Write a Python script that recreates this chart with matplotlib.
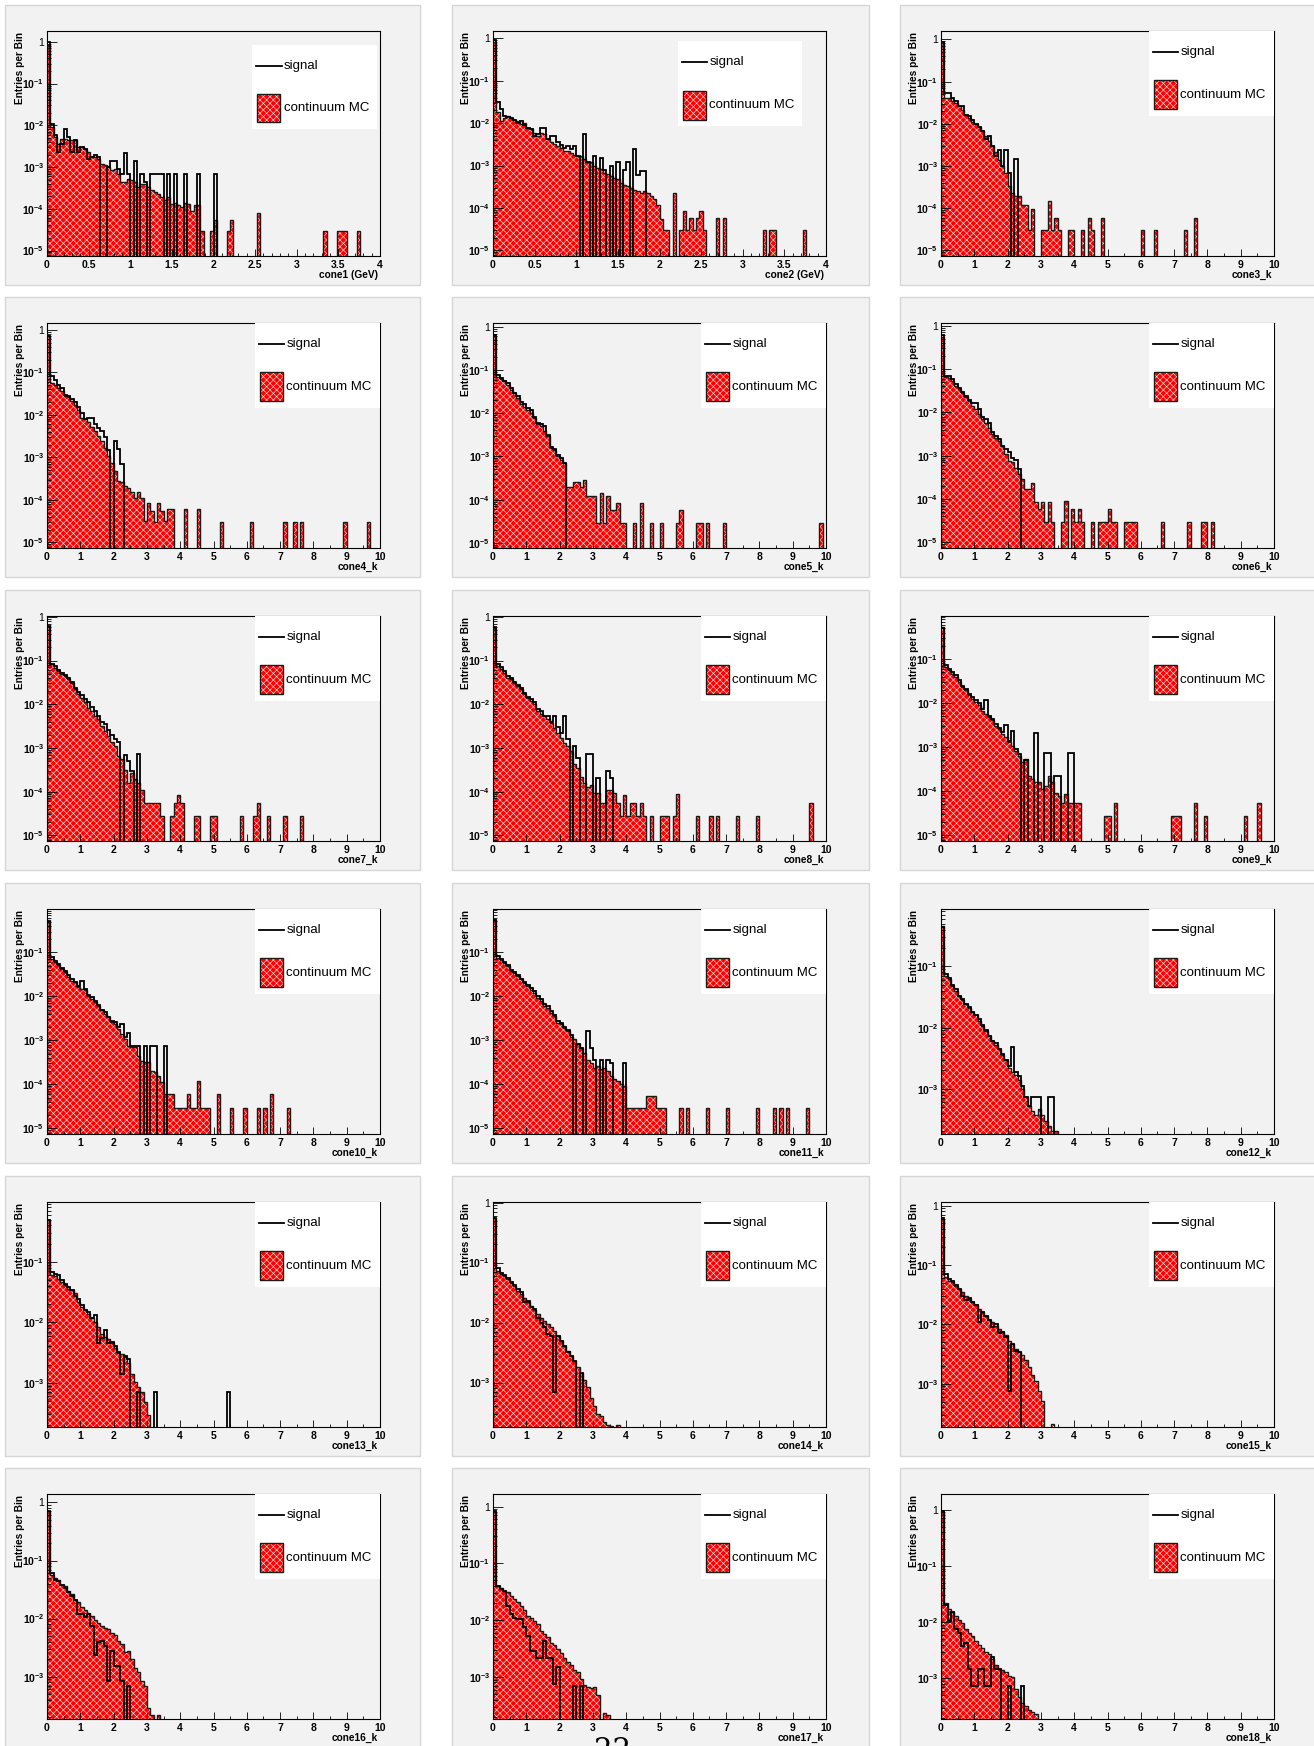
import numpy as np
import matplotlib
matplotlib.use("Agg")
import matplotlib.pyplot as plt
from matplotlib.patches import Rectangle
from matplotlib.lines import Line2D
from matplotlib.ticker import LogLocator, MultipleLocator, FuncFormatter, NullFormatter

plt.rcParams['font.family'] = ['Liberation Sans', 'DejaVu Sans']
plt.rcParams['mathtext.fontset'] = 'custom'
plt.rcParams['mathtext.rm'] = 'Liberation Sans'
plt.rcParams['mathtext.bf'] = 'Liberation Sans:bold'
plt.rcParams['hatch.linewidth'] = 0.4

NBINS = 100

# ---- cone1 (GeV), 0.04 bins
b1 = [0.85, 9e-3, 5.2e-3, 3.6e-3, 4.8e-3, 4.8e-3, 4.4e-3, 4.4e-3, 4.4e-3, 3e-3,
      3e-3, 2.7e-3, 2.3e-3, 1.7e-3, 1.7e-3, 1.6e-3, 1.2e-3, 1.1e-3, 1e-3, 8.3e-4,
      9e-4, 7e-4, 4.4e-4, 4.4e-4, 5.3e-4, 4.8e-4, 4.4e-4, 3.3e-4, 4e-4, 4e-4,
      3.3e-4, 2.8e-4, 2.5e-4, 2.3e-4, 1.9e-4, 1.6e-4, 1.9e-4, 1.3e-4, 1.4e-4, 1.2e-4,
      1.1e-4, 1.4e-4, 1.3e-4, 9e-5, 1.2e-4, 1.2e-4, 3e-5]
b1_tail = {49: 3e-5, 50: 5.5e-5, 54: 3e-5, 55: 5.5e-5, 63: 8e-5, 83: 3e-5,
           87: 3e-5, 88: 3e-5, 89: 3e-5, 93: 3e-5}
s1 = [1.0, 1.05e-2, 5.8e-3, 2.3e-3, 3.6e-3, 8.3e-3, 5.2e-3, 2.3e-3, 4.4e-3, 2.3e-3,
      3e-3, 2.7e-3, 1.6e-3, 1.7e-3, 1.9e-3, 1.7e-3, 0, 0, 1e-3, 1.4e-3,
      1.4e-3, 9e-4, 7e-4, 2.2e-3, 7e-4, 0, 1.4e-3, 0, 7e-4, 4.4e-4,
      0, 7e-4, 7e-4, 7e-4, 7e-4, 0, 7e-4, 0, 7e-4, 0,
      0, 7e-4, 0, 0, 0, 7e-4, 0, 0, 0, 0, 7e-4]

# ---- cone2 (GeV), 0.04 bins
b2 = [0.8, 1.8e-2, 1.1e-2, 1.35e-2, 1.5e-2, 1.35e-2, 1.2e-2, 1.1e-2, 9.4e-3, 1e-2,
      7.8e-3, 7.2e-3, 6e-3, 5e-3, 6e-3, 5.5e-3, 4.2e-3, 3.5e-3, 3.2e-3, 2.9e-3,
      2.6e-3, 2.2e-3, 2.2e-3, 2e-3, 1.8e-3, 1.7e-3, 1.7e-3, 1.4e-3, 1.2e-3, 1.2e-3,
      9.8e-4, 9e-4, 8.1e-4, 6.8e-4, 6.2e-4, 5.7e-4, 5.2e-4, 4.7e-4, 3.9e-4, 3.5e-4,
      3.3e-4, 3e-4, 2.7e-4, 2.5e-4, 2.3e-4, 2.5e-4, 2.3e-4, 1.9e-4, 1.6e-4, 1.2e-4,
      5.4e-5, 3e-5, 3e-5, 0, 2.3e-4, 0, 3e-5, 8.5e-5, 3e-5, 5.8e-5,
      3e-5, 5.8e-5, 8.5e-5, 3e-5]
b2_tail = {67: 5.8e-5, 69: 5.8e-5, 81: 3e-5, 83: 3e-5, 84: 3e-5, 93: 3e-5}
s2 = [0.9, 3.1e-2, 2.1e-2, 1.5e-2, 1.4e-2, 1.35e-2, 1.2e-2, 1e-2, 1.1e-2, 9e-3,
      7.8e-3, 7.2e-3, 5e-3, 5.5e-3, 7.8e-3, 7.8e-3, 4.2e-3, 5e-3, 5e-3, 3.5e-3,
      3e-3, 2.6e-3, 2.9e-3, 2.5e-3, 2.9e-3, 1.7e-3, 0, 5.4e-3, 1.2e-3, 0,
      1.7e-3, 0, 1.5e-3, 8e-4, 0, 1e-3, 0, 1.2e-3, 0, 8e-4,
      1.2e-3, 0, 2.4e-3, 6e-4, 7.4e-4, 7.4e-4]

# ---- cone3_k .. cone18_k, 0.1 bins
b3 = [0.8, 4.2e-2, 4e-2, 3.5e-2, 3.1e-2, 2.6e-2, 2.1e-2, 1.6e-2, 1.4e-2, 1.1e-2,
      9.9e-3, 8.3e-3, 6.9e-3, 5.2e-3, 3.9e-3, 3e-3, 2.2e-3, 1.4e-3, 1e-3, 7e-4,
      3.3e-4, 2.3e-4, 1.9e-4, 1.9e-4, 1.2e-4, 1.2e-4, 3e-5, 9.5e-5, 0, 0,
      3e-5, 3e-5, 1.5e-4, 3e-5, 5.9e-5, 3e-5]
b3_tail = {38: 3e-5, 39: 3e-5, 42: 3e-5, 44: 5.9e-5, 45: 3e-5, 48: 5.9e-5,
           60: 3e-5, 64: 3e-5, 73: 3e-5, 76: 5.9e-5}
s3 = [0.85, 5.5e-2, 5.3e-2, 4e-2, 3.5e-2, 2.6e-2, 2.6e-2, 1.6e-2, 1.5e-2, 1.2e-2,
      1e-2, 8.3e-3, 6.9e-3, 4.3e-3, 5.2e-3, 3e-3, 1.7e-3, 2.4e-3, 1e-3, 2.4e-3,
      7e-4, 0, 1.5e-3]

b4 = [0.7, 5.6e-2, 5.1e-2, 4.3e-2, 3.6e-2, 2.8e-2, 2.6e-2, 2.1e-2, 1.75e-2, 1.3e-2,
      8.5e-3, 7.8e-3, 6.7e-3, 5.2e-3, 4.2e-3, 3.2e-3, 2.4e-3, 1.7e-3, 1.1e-3, 7.5e-4,
      4.7e-4, 2.8e-4, 2.6e-4, 2.1e-4, 1.9e-4, 1.5e-4, 1.1e-4, 1.5e-4, 1.1e-4, 3.2e-5,
      8.6e-5, 5.5e-5, 3e-5, 8.6e-5, 5.5e-5, 3.2e-5, 6e-5, 6e-5]
b4_tail = {41: 6e-5, 45: 6e-5, 52: 3e-5, 61: 3e-5, 71: 3e-5, 74: 3e-5, 76: 3e-5,
           89: 3e-5, 96: 3e-5}
s4 = [0.7, 8.4e-2, 6.7e-2, 5e-2, 4.3e-2, 3e-2, 2.8e-2, 2.4e-2, 2e-2, 1.5e-2,
      1.1e-2, 8e-3, 8.6e-3, 8.6e-3, 6e-3, 5e-3, 4.2e-3, 3e-3, 1.5e-3, 0,
      2.4e-3, 1.6e-3, 7e-4]

b5 = [0.6, 6.9e-2, 6.3e-2, 5.5e-2, 4.6e-2, 3.5e-2, 3e-2, 2.3e-2, 1.6e-2, 1.4e-2,
      1.2e-2, 1e-2, 7.8e-3, 5.5e-3, 5e-3, 3.8e-3, 2.9e-3, 1.6e-3, 1.4e-3, 1e-3,
      8.5e-4, 7.1e-4, 2e-4, 2e-4, 2.5e-4, 2.5e-4, 2e-4, 2.9e-4, 1.2e-4, 1.2e-4,
      1.2e-4, 2.9e-5, 1.4e-4, 2.9e-5, 1.2e-4, 5.9e-5, 5.9e-5, 8.5e-5, 2.9e-5]
b5_tail = {39: 2.9e-5, 42: 2.9e-5, 44: 8.5e-5, 47: 2.9e-5, 50: 2.9e-5, 55: 2.9e-5,
           56: 5.9e-5, 61: 2.9e-5, 62: 2.9e-5, 64: 2.9e-5, 69: 2.9e-5, 98: 2.9e-5}
s5 = [0.65, 7.5e-2, 6.5e-2, 5.7e-2, 5e-2, 3.8e-2, 3e-2, 2.5e-2, 1.8e-2, 1.6e-2,
      1.3e-2, 1.2e-2, 8e-3, 6e-3, 5.5e-3, 5e-3, 3.2e-3, 1.7e-3, 1.5e-3, 1.1e-3,
      9e-4, 7.1e-4]

b6 = [0.55, 6.6e-2, 6.2e-2, 5.2e-2, 4e-2, 3.5e-2, 2.8e-2, 2.2e-2, 1.8e-2, 1.4e-2,
      1.2e-2, 9e-3, 6.9e-3, 5.8e-3, 4.4e-3, 3.1e-3, 2.6e-3, 2.2e-3, 1.7e-3, 1.07e-3,
      7.6e-4, 7e-4, 5.3e-4, 3.7e-4, 2.9e-4, 1.7e-4, 1.7e-4, 2.4e-4, 8.3e-5, 5.9e-5,
      8.3e-5, 2.9e-5, 8.3e-5, 2.9e-5]
b6_tail = {36: 2.9e-5, 37: 9e-5, 39: 5.9e-5, 40: 2.9e-5, 41: 5.9e-5, 42: 2.9e-5,
           45: 2.9e-5, 47: 2.9e-5, 48: 2.9e-5, 49: 2.9e-5, 50: 5.9e-5, 51: 2.9e-5,
           52: 2.9e-5, 55: 2.9e-5, 56: 2.9e-5, 57: 2.9e-5, 58: 2.9e-5, 66: 2.9e-5,
           74: 2.9e-5, 78: 2.9e-5, 79: 2.9e-5, 81: 2.9e-5}
s6 = [0.6, 7e-2, 6.8e-2, 5.8e-2, 4.4e-2, 3.6e-2, 3e-2, 2.4e-2, 1.9e-2, 1.6e-2,
      1.6e-2, 1.2e-2, 8e-3, 7e-3, 5.8e-3, 3.5e-3, 2.8e-3, 2.4e-3, 1.7e-3, 1.4e-3,
      1.2e-3, 9e-4, 8e-4, 5e-4]

b7 = [0.65, 8.2e-2, 6.9e-2, 5.8e-2, 4.9e-2, 4.4e-2, 3.7e-2, 3.1e-2, 2.2e-2, 1.7e-2,
      1.4e-2, 1.1e-2, 8.3e-3, 6.9e-3, 5.4e-3, 4.5e-3, 3.2e-3, 2.4e-3, 1.9e-3, 1.4e-3,
      1.1e-3, 6.5e-4, 5.5e-4, 3.2e-4, 1.6e-4, 2.7e-4, 1.9e-4, 1.6e-4, 1.1e-4, 5.5e-5,
      5.5e-5, 5.5e-5, 5.5e-5, 5.5e-5, 2.7e-5]
b7_tail = {37: 2.7e-5, 38: 5.5e-5, 39: 8.5e-5, 40: 5.5e-5, 44: 2.7e-5, 45: 2.7e-5,
           49: 2.7e-5, 50: 2.7e-5, 58: 2.7e-5, 62: 2.7e-5, 63: 5.5e-5, 66: 2.7e-5,
           71: 2.7e-5, 76: 2.7e-5}
s7 = [0.6, 8.5e-2, 7.5e-2, 6.2e-2, 5.2e-2, 4.6e-2, 3.9e-2, 3.3e-2, 2.4e-2, 1.9e-2,
      1.6e-2, 1.3e-2, 1.1e-2, 8.5e-3, 7e-3, 5.4e-3, 4e-3, 3.5e-3, 2.6e-3, 2e-3,
      1.6e-3, 1.4e-3, 0, 7e-4, 5e-4, 3e-4, 0, 7.3e-4]

b8 = [0.55, 7.5e-2, 6.3e-2, 5.3e-2, 4.1e-2, 3.7e-2, 3.1e-2, 2.6e-2, 2.2e-2, 1.7e-2,
      1.4e-2, 1.2e-2, 1e-2, 6.9e-3, 5.9e-3, 5.4e-3, 4.5e-3, 3.8e-3, 2.9e-3, 2.2e-3,
      1.7e-3, 1.3e-3, 1.1e-3, 8.5e-4, 4.2e-4, 3.5e-4, 2.2e-4, 1.6e-4, 1.3e-4, 1.4e-4,
      9.3e-5, 9.3e-5, 5.5e-5, 5.5e-5, 1.1e-4, 1.1e-4, 9.3e-5, 5.5e-5, 2.7e-5, 8.5e-5,
      2.7e-5, 5.5e-5, 5.5e-5, 2.7e-5, 5.5e-5, 2.7e-5]
b8_tail = {47: 2.7e-5, 50: 2.7e-5, 51: 2.7e-5, 52: 2.7e-5, 54: 2.7e-5, 55: 9e-5,
           61: 2.7e-5, 65: 2.7e-5, 67: 2.7e-5, 73: 2.7e-5, 79: 2.7e-5, 95: 5.5e-5}
s8 = [0.6, 8.5e-2, 7e-2, 5.8e-2, 4.5e-2, 4e-2, 3.3e-2, 2.8e-2, 2.3e-2, 1.8e-2,
      1.5e-2, 1.3e-2, 1.1e-2, 8e-3, 7e-3, 5.4e-3, 5.4e-3, 4e-3, 5.5e-3, 3e-3,
      2.2e-3, 5.5e-3, 1.6e-3, 0, 1.1e-3, 6e-4, 0, 0, 7.3e-4, 7.3e-4,
      0, 2e-4, 0, 0, 3e-4, 2e-4]

b9 = [0.55, 6.7e-2, 5.6e-2, 4.7e-2, 4e-2, 3e-2, 2.3e-2, 1.96e-2, 1.5e-2, 1.26e-2,
      1.06e-2, 8.9e-3, 6.8e-3, 5.7e-3, 4.8e-3, 4.1e-3, 3.1e-3, 2.6e-3, 2e-3, 1.7e-3,
      1.3e-3, 1.07e-3, 8.3e-4, 6.4e-4, 4.5e-4, 5.3e-4, 2.2e-4, 1.9e-4, 1.6e-4, 1.6e-4,
      1.1e-4, 1.3e-4, 2.2e-4, 1.6e-4, 9.3e-5, 7.8e-5, 5.5e-5, 8.5e-5, 5.5e-5, 5.5e-5,
      5.5e-5, 5.5e-5]
b9_tail = {49: 2.7e-5, 50: 2.7e-5, 52: 5.5e-5, 69: 2.7e-5, 70: 2.7e-5, 71: 2.7e-5,
           76: 5.5e-5, 79: 2.7e-5, 91: 2.7e-5, 95: 5.5e-5}
s9 = [0.5, 7.5e-2, 6e-2, 5e-2, 4.3e-2, 3.3e-2, 2.5e-2, 2.1e-2, 1.6e-2, 1.4e-2,
      1.2e-2, 1e-2, 7.5e-3, 1.2e-2, 5e-3, 4.3e-3, 3.4e-3, 2.8e-3, 2.2e-3, 3.2e-3,
      1.4e-3, 2.3e-3, 9e-4, 7e-4, 0, 5e-4, 0, 0, 2.1e-3, 0,
      0, 7.3e-4, 7.3e-4, 0, 2.2e-4, 2.2e-4, 0, 0, 7.3e-4, 7.3e-4]

b10 = [0.55, 7.3e-2, 6.1e-2, 5.1e-2, 4.3e-2, 3.6e-2, 2.8e-2, 2.3e-2, 2.1e-2, 1.6e-2,
       1.5e-2, 1.4e-2, 1.05e-2, 8.9e-3, 7.4e-3, 6.2e-3, 4.8e-3, 4e-3, 3.4e-3, 2.6e-3,
       2.4e-3, 1.8e-3, 1.4e-3, 1.07e-3, 7.6e-4, 6.9e-4, 6.9e-4, 4.5e-4, 3.4e-4, 3.2e-4,
       3.2e-4, 2e-4, 1.9e-4, 1.55e-4, 1.1e-4, 5.9e-5, 5.9e-5, 5.9e-5, 2.9e-5, 2.9e-5,
       2.9e-5, 2.9e-5, 5.9e-5, 2.9e-5, 2.9e-5, 1.2e-4, 2.9e-5, 2.9e-5, 2.9e-5]
b10_tail = {51: 5.9e-5, 55: 2.9e-5, 59: 2.9e-5, 63: 2.9e-5, 65: 2.9e-5, 67: 5.9e-5,
            72: 2.9e-5}
s10 = [0.5, 7.8e-2, 6.5e-2, 5.5e-2, 4.5e-2, 3.8e-2, 3e-2, 2.5e-2, 2.1e-2, 1.7e-2,
       2.2e-2, 1.5e-2, 1.1e-2, 9.5e-3, 8e-3, 6.5e-3, 5e-3, 4.5e-3, 3.4e-3, 2.8e-3,
       2.6e-3, 2e-3, 2.4e-3, 1.2e-3, 1.5e-3, 7.5e-4, 7.5e-4, 7.5e-4, 0, 7.5e-4,
       0, 7.5e-4, 7.5e-4, 0, 0, 7.5e-4]

b11 = [0.55, 7.4e-2, 6.8e-2, 5.7e-2, 4.8e-2, 3.7e-2, 3.4e-2, 2.8e-2, 2.4e-2, 2e-2,
       1.7e-2, 1.4e-2, 1.2e-2, 9.2e-3, 7.7e-3, 5.9e-3, 5.4e-3, 4.2e-3, 3.5e-3, 2.5e-3,
       2.3e-3, 1.9e-3, 1.6e-3, 1.2e-3, 1.04e-3, 8e-4, 6.7e-4, 5.2e-4, 3.6e-4, 3e-4,
       2.3e-4, 2.6e-4, 2.2e-4, 2.3e-4, 2e-4, 1.5e-4, 1.3e-4, 1.2e-4, 1e-4, 9e-5,
       2.9e-5, 2.9e-5, 2.9e-5, 2.9e-5, 2.9e-5, 2.9e-5, 5.4e-5, 5.4e-5, 5.4e-5, 2.9e-5,
       2.9e-5, 2.9e-5]
b11_tail = {56: 2.9e-5, 58: 2.9e-5, 64: 2.9e-5, 70: 2.9e-5, 79: 2.9e-5, 84: 2.9e-5,
            86: 2.9e-5, 88: 2.9e-5, 94: 2.9e-5}
s11 = [0.55, 8e-2, 7e-2, 6e-2, 5e-2, 4e-2, 3.5e-2, 3e-2, 2.5e-2, 2.1e-2,
       1.8e-2, 1.5e-2, 1.3e-2, 1e-2, 8.5e-3, 6.5e-3, 6e-3, 4.5e-3, 3.8e-3, 2.7e-3,
       2.5e-3, 2e-3, 1.7e-3, 1.3e-3, 0, 8e-4, 6.5e-4, 0, 1.6e-3, 6.5e-4,
       3.5e-4, 0, 3.5e-4, 0, 3.5e-4, 3e-4, 0, 0, 0, 3e-4]

b12 = [0.46, 7e-2, 6.2e-2, 4.8e-2, 4e-2, 3.3e-2, 2.8e-2, 2.4e-2, 2.1e-2, 1.8e-2,
       1.6e-2, 1.3e-2, 1.07e-2, 8.9e-3, 7.4e-3, 6.1e-3, 5.1e-3, 4.5e-3, 3.5e-3, 2.9e-3,
       2.2e-3, 1.9e-3, 1.7e-3, 1.4e-3, 1e-3, 7.3e-4, 5.3e-4, 4.4e-4, 3.7e-4, 4.7e-4,
       3.7e-4, 3e-4, 2.5e-4, 2e-4, 2e-4]
s12 = [0.45, 7.5e-2, 6.5e-2, 5e-2, 4.2e-2, 3.3e-2, 2.9e-2, 2.4e-2, 2.2e-2, 1.8e-2,
       1.6e-2, 1.4e-2, 1.1e-2, 9e-3, 7.4e-3, 6e-3, 5.5e-3, 4.5e-3, 3.7e-3, 2.9e-3,
       2.4e-3, 4.8e-3, 1.9e-3, 1.6e-3, 1.1e-3, 7.3e-4, 5.3e-4, 7.3e-4, 7.3e-4, 7.3e-4,
       0, 0, 7.3e-4, 7.3e-4]

b13 = [0.49, 6e-2, 5.8e-2, 5.3e-2, 4.7e-2, 4.1e-2, 3.6e-2, 3.4e-2, 3e-2, 2.2e-2,
       1.8e-2, 1.6e-2, 1.4e-2, 1.2e-2, 1e-2, 8.5e-3, 6.5e-3, 5.8e-3, 5.4e-3, 4.5e-3,
       3.7e-3, 3.1e-3, 3e-3, 2.7e-3, 2.1e-3, 1.4e-3, 1.05e-3, 8.6e-4, 7e-4, 4.9e-4,
       2.9e-4]
s13 = [0.5, 6.8e-2, 6.3e-2, 6e-2, 5e-2, 4.3e-2, 3.8e-2, 3.4e-2, 2.7e-2, 2.4e-2,
       1.9e-2, 1.6e-2, 1.5e-2, 1.2e-2, 1.3e-2, 4.5e-3, 5.5e-3, 7.5e-3, 4.5e-3, 4.8e-3,
       4e-3, 3.2e-3, 1.4e-3, 2.8e-3, 2.5e-3, 0, 0, 7e-4, 0, 0,
       0, 0, 7e-4]
s13_tail = {54: 7e-4}

b14 = [0.55, 7.2e-2, 6.4e-2, 6e-2, 5.3e-2, 4.6e-2, 4.1e-2, 3.4e-2, 3e-2, 2.6e-2,
       2.2e-2, 1.9e-2, 1.65e-2, 1.4e-2, 1.2e-2, 1.05e-2, 9.4e-3, 8.3e-3, 7.3e-3, 6e-3,
       4.9e-3, 4.1e-3, 3.4e-3, 2.8e-3, 2.3e-3, 1.8e-3, 1.45e-3, 1.1e-3, 8.3e-4, 5.6e-4,
       4.1e-4, 3e-4, 2.8e-4, 2.2e-4, 2e-4]
b14_tail = {35: 1.9e-4, 37: 2e-4}
s14 = [0.55, 8e-2, 6.8e-2, 6.3e-2, 5.5e-2, 4.8e-2, 4.3e-2, 3.6e-2, 3.2e-2, 2.2e-2,
       2.3e-2, 1.8e-2, 1.7e-2, 1.2e-2, 1e-2, 8.5e-3, 6.5e-3, 6e-3, 7e-4, 6e-3,
       5e-3, 4e-3, 3.2e-3, 2.8e-3, 2.3e-3, 0, 1.45e-3]

b15 = [0.6, 6.2e-2, 5.4e-2, 5.1e-2, 4.5e-2, 3.9e-2, 3.5e-2, 3e-2, 2.7e-2, 2.4e-2,
       2.1e-2, 1.8e-2, 1.6e-2, 1.4e-2, 1.2e-2, 1.1e-2, 9.5e-3, 8.4e-3, 7.4e-3, 6.5e-3,
       5.3e-3, 4.6e-3, 3.9e-3, 3.4e-3, 3e-3, 2.5e-3, 1.9e-3, 1.4e-3, 1.1e-3, 7.6e-4,
       5.1e-4]
b15_tail = {33: 2.1e-4}
s15 = [0.62, 7e-2, 5.8e-2, 5.3e-2, 4.6e-2, 4e-2, 3e-2, 2.6e-2, 2.8e-2, 2.4e-2,
       2.1e-2, 1.1e-2, 1.6e-2, 1.4e-2, 1.2e-2, 9e-3, 1e-2, 7e-3, 7.4e-3, 6e-3,
       7.6e-4, 4.6e-3, 3.6e-3, 3.4e-3]

b16 = [0.7, 5.7e-2, 5e-2, 4.7e-2, 3.8e-2, 3.6e-2, 3e-2, 2.6e-2, 2.1e-2, 1.9e-2,
       1.6e-2, 1.4e-2, 1.25e-2, 1.1e-2, 9.6e-3, 8.5e-3, 7.5e-3, 7e-3, 6.5e-3, 5.7e-3,
       5.3e-3, 4.1e-3, 3.6e-3, 2.7e-3, 2.8e-3, 2e-3, 1.4e-3, 1.2e-3, 8.5e-4, 7e-4,
       2.9e-4, 2.2e-4, 0, 2.2e-4]
s16 = [0.7, 6e-2, 4.7e-2, 4.4e-2, 3.8e-2, 3.3e-2, 2.9e-2, 2.4e-2, 2.1e-2, 1.2e-2,
       1.2e-2, 1.05e-2, 1.2e-2, 7.5e-3, 2.4e-3, 3.9e-3, 4.1e-3, 3.4e-3, 8.5e-4, 2.8e-3,
       1.5e-3, 1.5e-3, 8.5e-4, 0, 7e-4]

b17 = [0.8, 4e-2, 3.7e-2, 3.3e-2, 3.1e-2, 2.7e-2, 2.4e-2, 2.1e-2, 1.8e-2, 1.5e-2,
       1.2e-2, 1.1e-2, 9.8e-3, 8.6e-3, 6.5e-3, 5.7e-3, 5e-3, 4e-3, 3.6e-3, 3.1e-3,
       2.6e-3, 2.2e-3, 1.8e-3, 1.6e-3, 1.3e-3, 1.2e-3, 9.3e-4, 7.2e-4, 6.7e-4, 6.3e-4,
       6.7e-4, 4.9e-4, 0, 2.3e-4, 2.1e-4]
s17 = [0.85, 4e-2, 3.6e-2, 3.2e-2, 1.8e-2, 1.3e-2, 1.1e-2, 1.05e-2, 1.05e-2, 7.5e-3,
       5.3e-3, 2.9e-3, 2.9e-3, 2.2e-3, 2.2e-3, 4.3e-3, 2.2e-3, 2.2e-3, 7.6e-4, 1.5e-3,
       0, 0, 0, 0, 7e-4, 0, 7e-4]

b18 = [0.9, 2.2e-2, 1.7e-2, 1.5e-2, 1.3e-2, 1.1e-2, 9.8e-3, 7.5e-3, 6.5e-3, 5.7e-3,
       4.7e-3, 4e-3, 3.5e-3, 2.9e-3, 2.7e-3, 2.2e-3, 1.7e-3, 1.5e-3, 1.4e-3, 1.3e-3,
       1.1e-3, 1.05e-3, 6.5e-4, 4.6e-4, 3.7e-4, 3.3e-4, 2.7e-4, 2.5e-4, 2.3e-4]
s18 = [0.95, 2e-2, 1.05e-2, 1.5e-2, 7.5e-3, 6.5e-3, 3.8e-3, 4.3e-3, 1.5e-3, 7.4e-4,
       7.4e-4, 1.5e-3, 1.5e-3, 7.4e-4, 7.4e-4, 2.4e-3, 1.5e-3, 1.5e-3, 0, 0,
       7.4e-4, 0, 0, 0, 7.4e-4]

titles = ['cone1 (GeV)', 'cone2 (GeV)'] + ['cone%d_k' % i for i in range(3, 19)]
xmax = [4, 4] + [10] * 16
bkg = [(b1, b1_tail), (b2, b2_tail), (b3, b3_tail), (b4, b4_tail), (b5, b5_tail),
       (b6, b6_tail), (b7, b7_tail), (b8, b8_tail), (b9, b9_tail), (b10, b10_tail),
       (b11, b11_tail), (b12, {}), (b13, {}), (b14, b14_tail), (b15, b15_tail),
       (b16, {}), (b17, {}), (b18, {})]
sig = [(s1, {}), (s2, {}), (s3, {}), (s4, {}), (s5, {}), (s6, {}), (s7, {}), (s8, {}),
       (s9, {}), (s10, {}), (s11, {}), (s12, {}), (s13, s13_tail), (s14, {}), (s15, {}),
       (s16, {}), (s17, {}), (s18, {})]

# y ranges (ROOT log axes)
ylims = [(7.4e-6, 1.82), (7.4e-6, 1.48), (7.4e-6, 1.58), (7.4e-6, 1.45), (7.6e-6, 1.23),
         (7.4e-6, 1.15), (7.4e-6, 1.05), (7.4e-6, 1.05), (7.4e-6, 0.955), (7.4e-6, 0.977),
         (7.4e-6, 0.955), (1.82e-4, 0.87), (1.86e-4, 0.977), (1.82e-4, 1.02),
         (1.86e-4, 1.15), (1.86e-4, 1.4), (1.82e-4, 1.66), (1.9e-4, 1.9)]

W, H = 1314, 1746
FLOOR = 1e-9
AX_LEFT = [47, 493, 941]
AX_TOP = [31, 323, 616, 909, 1202, 1494]
AX_W, AX_H = 333, 225
PANEL_X = [(5, 420), (452, 869), (900, 1320)]

# legend boxes (axes fraction: x0, y0, x1, y1)
leg_default = (0.625, 0.622, 1.0, 1.0)
leg_box = [(0.617, 0.564, 0.991, 0.938), (0.557, 0.576, 0.928, 0.955)] + [leg_default] * 16

RED = '#ff0000'
HATCH = 'xxxxx'


def fill_hist(dense, tail):
    v = np.zeros(NBINS)
    v[:len(dense)] = dense
    for k, val in tail.items():
        v[k] = val
    return v


def ytick_label(v, pos):
    e = int(round(np.log10(v)))
    if e == 0:
        return '1'
    return r'$\mathbf{10^{%d}}$' % e


fig = plt.figure(figsize=(W / 100, H / 100), dpi=100)

for n in range(18):
    row, col = divmod(n, 3)
    left, top = AX_LEFT[col], AX_TOP[row]

    # pad background, kept behind the axes
    px0, px1 = PANEL_X[col]
    py0, py1 = top - 26, top + 254
    fig.patches.append(Rectangle((px0 / W, 1 - py1 / H), (px1 - px0) / W, (py1 - py0) / H,
                                 transform=fig.transFigure, facecolor='#f2f2f2',
                                 edgecolor='#d6d6d6', lw=1.0, zorder=-10))

    ax = fig.add_axes([left / W, 1 - (top + AX_H) / H, AX_W / W, AX_H / H])
    ax.set_facecolor('#f2f2f2')
    ax.set_yscale('log')

    edges = np.linspace(0, xmax[n], NBINS + 1)
    bv = fill_hist(*bkg[n])
    sv = fill_hist(*sig[n])
    bv = np.where(bv > 0, bv, FLOOR)
    sv = np.where(sv > 0, sv, FLOOR)

    ax.stairs(bv, edges, baseline=FLOOR, fill=True, facecolor=RED,
              edgecolor='white', hatch=HATCH, linewidth=0, zorder=1)
    ax.stairs(bv, edges, baseline=FLOOR, color='#1a1a1a', lw=1.0, zorder=2)
    ax.stairs(sv, edges, baseline=FLOOR, color='black', lw=1.3, zorder=3)

    ax.set_xlim(0, xmax[n])
    ax.set_ylim(*ylims[n])

    if xmax[n] == 4:
        ax.xaxis.set_major_locator(MultipleLocator(0.5))
        ax.xaxis.set_minor_locator(MultipleLocator(0.1))
    else:
        ax.xaxis.set_major_locator(MultipleLocator(1))
        ax.xaxis.set_minor_locator(MultipleLocator(0.5))
    ax.xaxis.set_major_formatter(FuncFormatter(lambda v, p: '%g' % v))
    ax.yaxis.set_major_locator(LogLocator(base=10, numticks=20))
    ax.yaxis.set_minor_locator(LogLocator(base=10, subs=np.arange(2, 10), numticks=20))
    ax.yaxis.set_major_formatter(FuncFormatter(ytick_label))
    ax.yaxis.set_minor_formatter(NullFormatter())

    ax.tick_params(which='both', direction='in', top=False, right=False, width=0.6,
                   labelsize=7.5)
    ax.tick_params(axis='y', which='major', length=7, pad=2)
    ax.tick_params(axis='y', which='minor', length=3)
    ax.tick_params(axis='x', which='major', length=5, pad=3)
    ax.tick_params(axis='x', which='minor', length=2.5)
    for lab in ax.get_xticklabels():
        lab.set_fontweight('bold')
    for sp in ax.spines.values():
        sp.set_linewidth(0.8)

    # axis titles
    fig.text((left - 27) / W, 1 - (top + 1) / H, 'Entries per Bin', rotation=90,
             ha='center', va='top', fontsize=7.3, fontweight='bold')
    fig.text((left + AX_W - 2) / W, 1 - (top + AX_H + 19) / H, titles[n],
             ha='right', va='center', fontsize=7.3, fontweight='bold')

    # legend
    x0, y0, x1, y1 = leg_box[n]
    lw_, lh_ = x1 - x0, y1 - y0
    ax.add_patch(Rectangle((x0, y0), lw_, lh_, transform=ax.transAxes, facecolor='white',
                           edgecolor='none', zorder=10, clip_on=False))
    ax.add_line(Line2D([x0 + 0.032 * lw_, x0 + 0.234 * lw_], [y1 - 0.25 * lh_] * 2,
                       transform=ax.transAxes, color='black', lw=1.3, zorder=11,
                       clip_on=False))
    ax.text(x0 + 0.25 * lw_, y1 - 0.25 * lh_, 'signal', transform=ax.transAxes,
            ha='left', va='center', fontsize=9.5, zorder=11)
    px_, pw_ = x0 + 0.04 * lw_, 0.18 * lw_
    py_, ph_ = y1 - 0.92 * lh_, 0.34 * lh_
    ax.add_patch(Rectangle((px_, py_), pw_, ph_, transform=ax.transAxes, facecolor=RED,
                           edgecolor='white', hatch=HATCH, lw=0, zorder=11, clip_on=False))
    ax.add_patch(Rectangle((px_, py_), pw_, ph_, transform=ax.transAxes, facecolor='none',
                           edgecolor='#1a1a1a', lw=1.0, zorder=12, clip_on=False))
    ax.text(x0 + 0.25 * lw_, y1 - 0.75 * lh_, 'continuum MC', transform=ax.transAxes,
            ha='left', va='center', fontsize=9.5, zorder=11)

# page number
fig.text(612 / W, 1 - 1737 / H, '22', ha='center', va='top', fontsize=21,
         family='DejaVu Serif', zorder=20)

fig.savefig('out.png', dpi=100)
